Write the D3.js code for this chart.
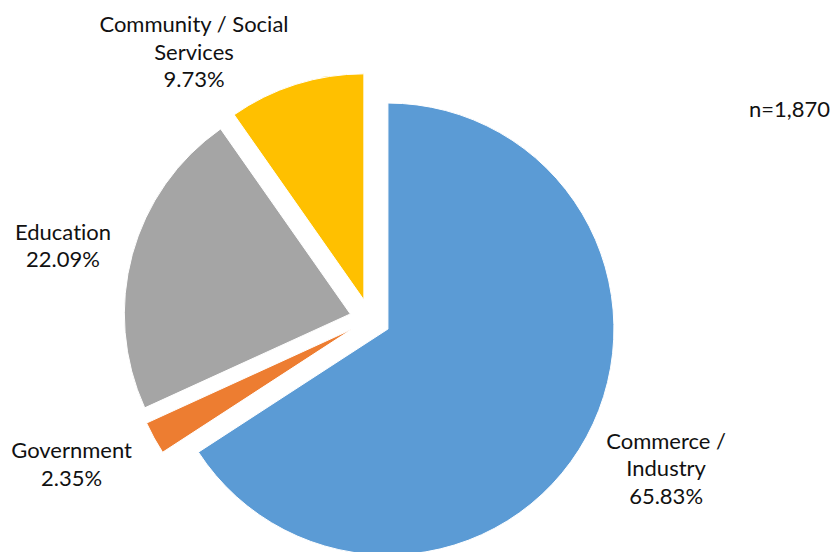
<!DOCTYPE html>
<html>
<head>
<meta charset="utf-8">
<script src="https://cdn.jsdelivr.net/npm/d3@7"></script>
<style>
  html, body { margin: 0; padding: 0; background: #fff; }
  text {
    font-family: Lato, "Open Sans", "Noto Sans", sans-serif;
    fill: #111;
    font-variant-ligatures: none;
    font-feature-settings: "liga" 0, "clig" 0;
  }
</style>
</head>
<body>
<svg id="chart" width="835" height="552"></svg>
<script>
// Sector shares of respondents (percent)
const categories = ["Commerce / Industry", "Government", "Education", "Community / Social Services"];
const shares = [65.83, 2.35, 22.09, 9.73];
const colors = ["#5B9BD5", "#ED7D31", "#A5A5A5", "#FFC000"];
// how each category name wraps in its label
const labelLines = [["Commerce /", "Industry"], ["Government"], ["Education"], ["Community / Social", "Services"]];
const sampleNote = "n=1,870";

// layout
const W = 835, H = 552;
const cx = 370, cy = 319.3;
const radius = 226, explode = 20.4;
const labelRadius = 300, lineHeight = 27.8, fontSize = 22;
const labelNudge = [[14.5, -3.5], [-17.6, -9.2], [2.2, 10.6], [-79.6, 38.1]];

const data = categories.map((c, i) => ({ name: c, value: shares[i], lines: labelLines[i], color: colors[i], nudge: labelNudge[i] }));

const svg = d3.select("#chart");
const root = svg.append("g").attr("transform", `translate(${cx},${cy})`);

const pie = d3.pie().sort(null).value(d => d.value);
const arc = d3.arc().innerRadius(0).outerRadius(radius);
const arcs = pie(data);

const dirOf = a => {
  const m = (a.startAngle + a.endAngle) / 2;
  return [Math.sin(m), -Math.cos(m)];
};

// exploded slices
root.selectAll("path.slice")
  .data(arcs)
  .join("path")
  .attr("class", "slice")
  .attr("d", arc)
  .attr("fill", d => d.data.color)
  .attr("stroke", "#fff")
  .attr("stroke-width", 1)
  .attr("transform", d => {
    const [dx, dy] = dirOf(d);
    return `translate(${dx * explode},${dy * explode})`;
  });

// data labels: category name + percentage
const fmt = v => d3.format(".2f")(v) + "%";
const labels = root.selectAll("text.label")
  .data(arcs)
  .join("text")
  .attr("class", "label")
  .attr("text-anchor", "middle")
  .style("font-size", fontSize + "px")
  .attr("transform", d => {
    const [dx, dy] = dirOf(d);
    const r = explode + labelRadius;
    return `translate(${dx * r + d.data.nudge[0]},${dy * r + d.data.nudge[1]})`;
  });

labels.each(function(d) {
  const lines = d.data.lines.concat([fmt(d.data.value)]);
  const n = lines.length;
  d3.select(this).selectAll("tspan")
    .data(lines)
    .join("tspan")
    .attr("x", 0)
    .attr("y", (l, i) => (i - (n - 1) / 2) * lineHeight + fontSize * 0.35)
    .text(l => l);
});

// sample size note
svg.append("text")
  .attr("x", 830)
  .attr("y", 117)
  .attr("text-anchor", "end")
  .style("font-size", fontSize + "px")
  .text(sampleNote);
</script>
</body>
</html>
